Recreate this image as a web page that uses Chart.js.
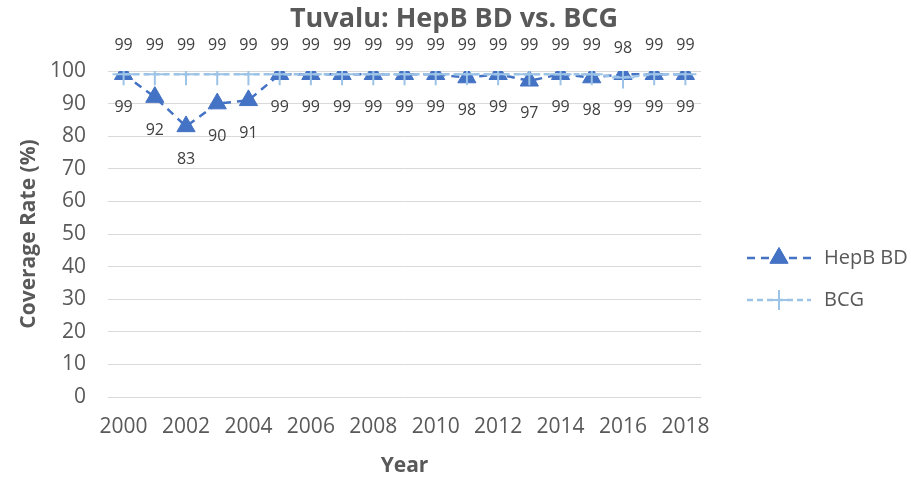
<!DOCTYPE html>
<html><head><meta charset="utf-8">
<script src="https://cdn.jsdelivr.net/npm/chart.js@4"></script>
<style>html,body{margin:0;padding:0;background:#fff}#wrap{width:911px;height:480px}</style>
</head><body><div id="wrap"><canvas id="c" width="911" height="480"></canvas></div>
<script>
const years = ['2000','2001','2002','2003','2004','2005','2006','2007','2008','2009','2010','2011','2012','2013','2014','2015','2016','2017','2018'];
const hepbBD = [99,92,83,90,91,99,99,99,99,99,99,98,99,97,99,98,99,99,99];
const bcg    = [99,99,99,99,99,99,99,99,99,99,99,99,99,99,99,99,98,99,99];
const yTicks = [0,10,20,30,40,50,60,70,80,90,100];
const titleText = 'Tuvalu: HepB BD vs. BCG';
const FONT = "'Open Sans', 'DejaVu Sans', sans-serif";
const HEPB_COLOR = '#4472C4';
const BCG_COLOR = '#9DC3E6';
const TEXT = '#595959';

const overlay = {
  id: 'overlay',
  afterDatasetsDraw(chart) {
    const ctx = chart.ctx;
    ctx.save();
    ctx.font = "16px " + FONT;
    ctx.fillStyle = '#404040';
    ctx.textAlign = 'center';
    ctx.textBaseline = 'middle';
    const mB = chart.getDatasetMeta(1);
    mB.data.forEach((p, i) => ctx.fillText(String(bcg[i]), p.x, p.y - 29));
    const mH = chart.getDatasetMeta(0);
    mH.data.forEach((p, i) => ctx.fillText(String(hepbBD[i]), p.x, p.y + 33));
    ctx.restore();
  },
  afterDraw(chart) {
    const ctx = chart.ctx;
    ctx.save();
    // title
    ctx.font = "bold 27px " + FONT;
    ctx.fillStyle = TEXT;
    ctx.textAlign = 'center';
    ctx.textBaseline = 'middle';
    ctx.fillText(titleText, 454, 19);
    // legend
    const x0 = 747, x1 = 811, xc = 779;
    ctx.lineWidth = 2.5;
    ctx.strokeStyle = HEPB_COLOR;
    ctx.setLineDash([8, 6]);
    ctx.beginPath(); ctx.moveTo(x0, 258); ctx.lineTo(x1, 258); ctx.stroke();
    ctx.setLineDash([]);
    ctx.fillStyle = HEPB_COLOR;
    ctx.lineWidth = 1;
    Chart.helpers.drawPoint(ctx, {pointStyle: 'triangle', radius: 10.5, borderWidth: 1}, xc, 258);
    ctx.fill();
    ctx.lineWidth = 2.5;
    ctx.strokeStyle = BCG_COLOR;
    ctx.setLineDash([6, 4]);
    ctx.beginPath(); ctx.moveTo(x0, 300); ctx.lineTo(x1, 300); ctx.stroke();
    ctx.setLineDash([]);
    ctx.lineWidth = 2;
    Chart.helpers.drawPoint(ctx, {pointStyle: 'cross', radius: 10, borderWidth: 2}, xc, 300);
    ctx.font = "20px " + FONT;
    ctx.fillStyle = TEXT;
    ctx.textAlign = 'left';
    ctx.fillText('HepB BD', 824, 258);
    ctx.fillText('BCG', 824, 300);
    ctx.restore();
  }
};

new Chart(document.getElementById('c'), {
  type: 'line',
  data: {
    labels: years,
    datasets: [
      {
        label: 'HepB BD', data: hepbBD, order: 1,
        borderColor: HEPB_COLOR, backgroundColor: HEPB_COLOR, borderWidth: 2.5,
        borderDash: [8, 6], pointStyle: 'triangle', pointRadius: 10.5,
        pointBackgroundColor: HEPB_COLOR, pointBorderColor: HEPB_COLOR, pointBorderWidth: 1,
        tension: 0, fill: false
      },
      {
        label: 'BCG', data: bcg, order: 0,
        borderColor: BCG_COLOR, backgroundColor: BCG_COLOR, borderWidth: 2.5,
        borderDash: [6, 4], pointStyle: 'cross', pointRadius: 11,
        pointBorderColor: BCG_COLOR, pointBorderWidth: 2,
        tension: 0, fill: false
      }
    ]
  },
  options: {
    responsive: false, animation: false,
    layout: { padding: { top: 71, right: 210, left: 0, bottom: 0 } },
    plugins: { legend: { display: false }, title: { display: false }, tooltip: { enabled: false } },
    scales: {
      x: {
        offset: true,
        grid: { display: false, drawTicks: false },
        border: { display: false },
        ticks: {
          autoSkip: false, maxRotation: 0, color: TEXT, font: { size: 21, family: FONT }, padding: 17,
          callback: function(v, i) { return i % 2 === 0 ? this.getLabelForValue(v) : ''; }
        },
        title: { display: true, text: 'Year', color: TEXT, font: { size: 21, weight: 'bold', family: FONT }, padding: { top: 4, bottom: 1 } },
        afterFit: s => { s.height = 83; }
      },
      y: {
        min: 0, max: 100,
        grid: { color: '#d9d9d9', lineWidth: 1, drawTicks: false },
        border: { display: false },
        afterBuildTicks: s => { s.ticks = yTicks.map(v => ({ value: v })); },
        ticks: { color: TEXT, font: { size: 21, family: FONT }, padding: 22 },
        title: { display: true, text: 'Coverage Rate (%)', color: TEXT, font: { size: 21, weight: 'bold', family: FONT }, padding: { top: 16, bottom: 4 } },
        afterFit: s => { s.width = 108; }
      }
    }
  },
  plugins: [overlay]
});
</script>
</body></html>
